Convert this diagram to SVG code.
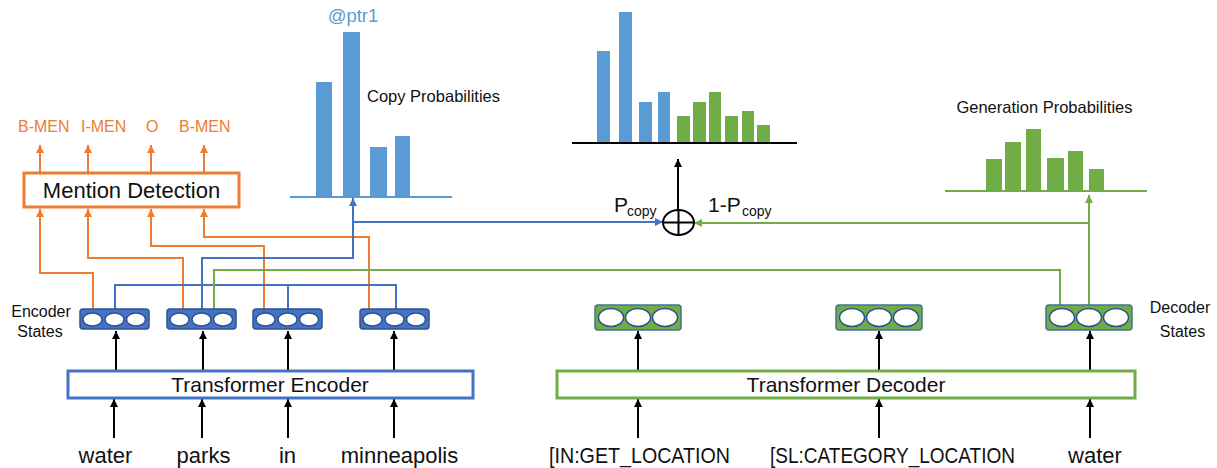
<svg xmlns="http://www.w3.org/2000/svg" width="1217" height="468" viewBox="0 0 1217 468">
<style>
text{font-family:"Liberation Sans",Arial,sans-serif;fill:#111}
.or{fill:#ED7D31}
.bl{fill:#5B9BD5}
.gr{fill:#70AD47}
.ln{fill:none;stroke-width:2}
.k{stroke:#000}
.o{stroke:#ED7D31}
.b{stroke:#4472C4}
.g{stroke:#70AD47}
.enc{fill:#4472C4;stroke:#2F528F;stroke-width:1.5}
.dec{fill:#70AD47;stroke:#41719C;stroke-width:1.5}
.cell{fill:#fff;stroke:#2F528F;stroke-width:1.5}
</style>
<defs>
<marker id="ak" viewBox="0 0 10 10" refX="10" refY="5" markerWidth="8" markerHeight="8" markerUnits="userSpaceOnUse" orient="auto"><path d="M0,0 L10,5 L0,10 z" fill="#000"/></marker>
<marker id="ao" viewBox="0 0 10 10" refX="10" refY="5" markerWidth="8" markerHeight="8" markerUnits="userSpaceOnUse" orient="auto"><path d="M0,0 L10,5 L0,10 z" fill="#ED7D31"/></marker>
<marker id="ab" viewBox="0 0 10 10" refX="10" refY="5" markerWidth="8" markerHeight="8" markerUnits="userSpaceOnUse" orient="auto"><path d="M0,0 L10,5 L0,10 z" fill="#4472C4"/></marker>
<marker id="ag" viewBox="0 0 10 10" refX="10" refY="5" markerWidth="8" markerHeight="8" markerUnits="userSpaceOnUse" orient="auto"><path d="M0,0 L10,5 L0,10 z" fill="#70AD47"/></marker>
</defs>

<g id="connectors">
  <!-- encoder inputs -->
  <path class="ln k" marker-end="url(#ak)" d="M114,438 V399"/>
  <path class="ln k" marker-end="url(#ak)" d="M202,438 V399"/>
  <path class="ln k" marker-end="url(#ak)" d="M288,438 V399"/>
  <path class="ln k" marker-end="url(#ak)" d="M394,438 V399"/>
  <!-- encoder to states -->
  <path class="ln k" marker-end="url(#ak)" d="M116,370 V331"/>
  <path class="ln k" marker-end="url(#ak)" d="M203,370 V331"/>
  <path class="ln k" marker-end="url(#ak)" d="M288,370 V331"/>
  <path class="ln k" marker-end="url(#ak)" d="M394,370 V331"/>
  <!-- decoder inputs -->
  <path class="ln k" marker-end="url(#ak)" d="M638,438 V399"/>
  <path class="ln k" marker-end="url(#ak)" d="M879,438 V399"/>
  <path class="ln k" marker-end="url(#ak)" d="M1090,438 V399"/>
  <!-- decoder to states -->
  <path class="ln k" marker-end="url(#ak)" d="M638,370 V331"/>
  <path class="ln k" marker-end="url(#ak)" d="M879,370 V331"/>
  <path class="ln k" marker-end="url(#ak)" d="M1090,370 V331"/>
  <!-- mention detection outputs -->
  <path class="ln o" marker-end="url(#ao)" d="M40,172 V145"/>
  <path class="ln o" marker-end="url(#ao)" d="M88,172 V145"/>
  <path class="ln o" marker-end="url(#ao)" d="M151,172 V145"/>
  <path class="ln o" marker-end="url(#ao)" d="M204,172 V145"/>
  <!-- encoder states to mention detection -->
  <path class="ln o" marker-end="url(#ao)" d="M93,309 V273 H40 V209"/>
  <path class="ln o" marker-end="url(#ao)" d="M183,309 V258 H88 V209"/>
  <path class="ln o" marker-end="url(#ao)" d="M264,309 V246 H151 V209"/>
  <path class="ln o" marker-end="url(#ao)" d="M369,309 V237 H204 V209"/>
  <!-- blue bus -->
  <path class="ln b" d="M115,309 V285 H396 V309 M288,285 V309"/>
  <path class="ln b" marker-end="url(#ab)" d="M202,309 V258 H353 V198"/>
  <path class="ln b" marker-end="url(#ab)" d="M353,222 H663"/>
  <!-- green -->
  <path class="ln g" d="M214,309 V270 H1060 V305"/>
  <path class="ln g" marker-end="url(#ag)" d="M1089,305 V195"/>
  <path class="ln g" marker-end="url(#ag)" d="M1089,223 H694"/>
  <!-- combine -->
  <path class="ln k" marker-end="url(#ak)" d="M678,210 V159"/>
</g>

<g id="plus">
  <ellipse cx="678.5" cy="222.5" rx="15.5" ry="12.5" fill="#fff" stroke="#000" stroke-width="2"/>
  <path d="M663,222.5 H694 M678.5,210 V235" stroke="#000" stroke-width="2"/>
  <text x="614" y="212" font-size="21">P</text>
  <text x="627" y="216" font-size="14">copy</text>
  <text x="708" y="212" font-size="21">1-P</text>
  <text x="742" y="216" font-size="14">copy</text>
</g>

<g id="mention-detection">
  <rect x="24" y="173" width="215" height="34" fill="#fff" stroke="#ED7D31" stroke-width="3"/>
  <text x="131.5" y="198" font-size="22" text-anchor="middle">Mention Detection</text>
  <text class="or" x="18" y="132" font-size="16">B-MEN</text>
  <text class="or" x="81" y="132" font-size="16">I-MEN</text>
  <text class="or" x="146" y="132" font-size="16">O</text>
  <text class="or" x="179" y="132" font-size="16">B-MEN</text>
</g>

<g id="copy-probabilities">
  <rect class="bl" x="316" y="82" width="16" height="114"/>
  <rect class="bl" x="343" y="32" width="17" height="164"/>
  <rect class="bl" x="370" y="147" width="17" height="49"/>
  <rect class="bl" x="395" y="136" width="15" height="60"/>
  <path d="M290,197 H452" stroke="#5B9BD5" stroke-width="2"/>
  <text class="bl" x="353" y="22" font-size="18.5" text-anchor="middle">@ptr1</text>
  <text x="367" y="102" font-size="16.5">Copy Probabilities</text>
</g>

<g id="final-distribution">
  <rect class="bl" x="597" y="51" width="13" height="91"/>
  <rect class="bl" x="619" y="12" width="13" height="130"/>
  <rect class="bl" x="639" y="102" width="13" height="40"/>
  <rect class="bl" x="658" y="92" width="12" height="50"/>
  <rect class="gr" x="677" y="116" width="13" height="26"/>
  <rect class="gr" x="693" y="102" width="13" height="40"/>
  <rect class="gr" x="709" y="92" width="12" height="50"/>
  <rect class="gr" x="725" y="116" width="13" height="26"/>
  <rect class="gr" x="742" y="111" width="12" height="31"/>
  <rect class="gr" x="757" y="125" width="13" height="17"/>
  <path d="M572,143 H797" stroke="#000" stroke-width="2"/>
</g>

<g id="generation-probabilities">
  <rect class="gr" x="986" y="159" width="16" height="31"/>
  <rect class="gr" x="1005" y="142" width="16" height="48"/>
  <rect class="gr" x="1026" y="129" width="15" height="61"/>
  <rect class="gr" x="1047" y="158" width="17" height="32"/>
  <rect class="gr" x="1068" y="151" width="15" height="39"/>
  <rect class="gr" x="1089" y="169" width="15" height="21"/>
  <path d="M945,191 H1147" stroke="#70AD47" stroke-width="2"/>
  <text x="1044.5" y="113" font-size="16.5" text-anchor="middle">Generation Probabilities</text>
</g>

<g id="encoder-states">
  <text x="41" y="317" font-size="16" text-anchor="middle">Encoder</text>
  <text x="40" y="337" font-size="16" text-anchor="middle">States</text>
  <rect class="enc" x="80" y="309" width="69" height="20" rx="3"/>
  <ellipse class="cell" cx="92.5" cy="319.5" rx="9.5" ry="6.5"/>
  <ellipse class="cell" cx="114.5" cy="319.5" rx="9.5" ry="6.5"/>
  <ellipse class="cell" cx="136" cy="319.5" rx="9.5" ry="6.5"/>
  <rect class="enc" x="167" y="309" width="69" height="20" rx="3"/>
  <ellipse class="cell" cx="179.5" cy="319.5" rx="9.5" ry="6.5"/>
  <ellipse class="cell" cx="201.5" cy="319.5" rx="9.5" ry="6.5"/>
  <ellipse class="cell" cx="223" cy="319.5" rx="9.5" ry="6.5"/>
  <rect class="enc" x="253" y="309" width="69" height="20" rx="3"/>
  <ellipse class="cell" cx="265.5" cy="319.5" rx="9.5" ry="6.5"/>
  <ellipse class="cell" cx="287.5" cy="319.5" rx="9.5" ry="6.5"/>
  <ellipse class="cell" cx="309" cy="319.5" rx="9.5" ry="6.5"/>
  <rect class="enc" x="360" y="309" width="69" height="20" rx="3"/>
  <ellipse class="cell" cx="372.5" cy="319.5" rx="9.5" ry="6.5"/>
  <ellipse class="cell" cx="394.5" cy="319.5" rx="9.5" ry="6.5"/>
  <ellipse class="cell" cx="416" cy="319.5" rx="9.5" ry="6.5"/>
</g>

<g id="decoder-states">
  <rect class="dec" x="595" y="305" width="86" height="25" rx="3"/>
  <ellipse class="cell" cx="611" cy="317.5" rx="12.5" ry="9"/>
  <ellipse class="cell" cx="638" cy="317.5" rx="12.5" ry="9"/>
  <ellipse class="cell" cx="665" cy="317.5" rx="12.5" ry="9"/>
  <rect class="dec" x="836" y="305" width="86" height="25" rx="3"/>
  <ellipse class="cell" cx="852" cy="317.5" rx="12.5" ry="9"/>
  <ellipse class="cell" cx="879" cy="317.5" rx="12.5" ry="9"/>
  <ellipse class="cell" cx="906" cy="317.5" rx="12.5" ry="9"/>
  <rect class="dec" x="1046" y="305" width="86" height="25" rx="3"/>
  <ellipse class="cell" cx="1062" cy="317.5" rx="12.5" ry="9"/>
  <ellipse class="cell" cx="1089" cy="317.5" rx="12.5" ry="9"/>
  <ellipse class="cell" cx="1116" cy="317.5" rx="12.5" ry="9"/>
  <text x="1180" y="313" font-size="16" text-anchor="middle">Decoder</text>
  <text x="1182.5" y="337" font-size="16" text-anchor="middle">States</text>
</g>

<g id="transformer-encoder">
  <rect x="68" y="371" width="405" height="27" fill="#fff" stroke="#4472C4" stroke-width="3"/>
  <text x="270" y="392" font-size="21" text-anchor="middle">Transformer Encoder</text>
</g>

<g id="transformer-decoder">
  <rect x="557" y="371" width="578" height="27" fill="#fff" stroke="#70AD47" stroke-width="3"/>
  <text x="846" y="392" font-size="21" text-anchor="middle">Transformer Decoder</text>
</g>

<g id="inputs">
  <text x="105.5" y="463" font-size="22" text-anchor="middle">water</text>
  <text x="203.5" y="463" font-size="22" text-anchor="middle">parks</text>
  <text x="287.5" y="463" font-size="22" text-anchor="middle">in</text>
  <text x="399.5" y="463" font-size="22" text-anchor="middle">minneapolis</text>
  <text x="549" y="463" font-size="22" textLength="181" lengthAdjust="spacingAndGlyphs">[IN:GET_LOCATION</text>
  <text x="770" y="463" font-size="22" textLength="245" lengthAdjust="spacingAndGlyphs">[SL:CATEGORY_LOCATION</text>
  <text x="1095" y="463" font-size="22" text-anchor="middle">water</text>
</g>
</svg>
